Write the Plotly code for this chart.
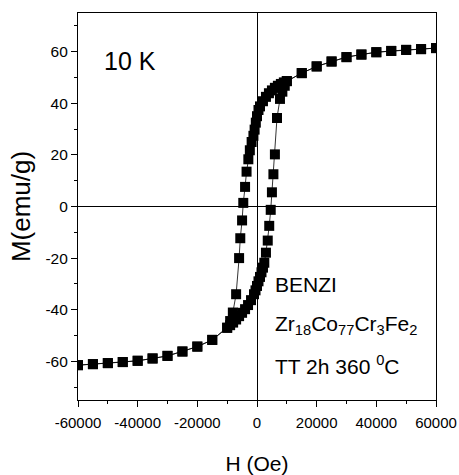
import plotly.graph_objects as go

# Descending branch (field swept from +60000 Oe to -60000 Oe)
H_down = [60000, 55000, 50000, 45000, 40000, 35000, 30000, 25000, 20000, 15000,
          10000, 9000, 8000, 7000, 6000, 5000, 4000, 3000, 2000, 1000, 500, 0,
          -400, -800, -1200, -1800, -2400, -2900, -3500, -4000, -4600, -5000,
          -5600, -6000, -7000, -8100, -9000, -10000,
          -15000, -20000, -25000, -30000, -35000, -40000, -45000, -50000, -55000, -60000]
M_down = [61.4, 61.0, 60.7, 60.3, 59.8, 58.9, 57.9, 56.2, 54.3, 51.7,
          48.6, 48.1, 47.5, 46.8, 46.0, 45.0, 43.9, 42.5, 40.8, 38.8, 37.4, 35.0,
          32.5, 29.8, 27.4, 25.0, 21.8, 18.3, 13.5, 7.6, 1.4, -5.4,
          -12.3, -20.0, -34.0, -41.1, -44.4, -47.0,
          -51.7, -54.3, -56.2, -57.9, -58.9, -59.8, -60.3, -60.7, -61.1, -61.5]

# Ascending branch (field swept from -60000 Oe to +60000 Oe)
H_up = [-60000, -55000, -50000, -45000, -40000, -35000, -30000, -25000, -20000, -15000,
        -10000, -9000, -8000, -7000, -6000, -5000, -4000, -3000, -2000, -1000, -500, 0,
        500, 1000, 1500, 2000, 2450, 3000, 3600, 4100, 4600, 5000, 5500, 6000,
        6700, 7700, 8500, 9300, 10000,
        15000, 20000, 25000, 30000, 35000, 40000, 45000, 50000, 55000, 60000]
M_up = [-61.5, -61.1, -60.7, -60.3, -59.8, -58.9, -57.9, -56.2, -54.3, -51.7,
        -47.0, -46.0, -45.0, -43.8, -42.5, -41.2, -39.8, -38.2, -36.3, -34.0, -32.5, -30.8,
        -29.0, -27.3, -25.5, -23.7, -21.8, -17.9, -13.2, -7.5, -1.3, 5.5, 12.5, 20.2,
        34.3, 41.7, 44.5, 46.8, 48.6,
        51.7, 54.3, 56.2, 57.9, 58.9, 59.8, 60.3, 60.7, 61.0, 61.4]

x_ticks = [-60000, -40000, -20000, 0, 20000, 40000, 60000]
y_ticks = [-60, -40, -20, 0, 20, 40, 60]

FONT = "Liberation Sans, Arial, sans-serif"

fig = go.Figure()
for hx, my in ((H_down, M_down), (H_up, M_up)):
    fig.add_trace(go.Scatter(
        x=hx, y=my, mode="lines+markers",
        line=dict(color="black", width=0.8),
        marker=dict(symbol="square", size=10, color="black", line=dict(width=0)),
        showlegend=False, hoverinfo="skip"))

axis_common = dict(
    showline=True, linecolor="black", linewidth=1.2, mirror=True,
    ticks="outside", ticklen=6, tickwidth=1, tickcolor="black",
    showgrid=False, zeroline=True, zerolinecolor="black", zerolinewidth=1,
    tickangle=0, automargin=False,
)

fig.update_layout(
    width=459, height=475,
    margin=dict(l=78, r=23, t=13, b=75),
    paper_bgcolor="white", plot_bgcolor="white",
    xaxis=dict(range=[-60000, 60000], tickvals=x_ticks,
               ticktext=[str(v) for v in x_ticks],
               tickfont=dict(family=FONT, size=15, color="black"),
               minor=dict(dtick=10000, ticks="outside", ticklen=3, tickcolor="black"),
               ticklabelstandoff=3,
               title=dict(text="H (Oe)", font=dict(family=FONT, size=21, color="black"),
                          standoff=26),
               **axis_common),
    yaxis=dict(range=[-75, 75], tickvals=y_ticks,
               ticktext=[str(v) for v in y_ticks],
               tickfont=dict(family=FONT, size=15.5, color="black"),
               minor=dict(dtick=10, ticks="outside", ticklen=3, tickcolor="black"),
               title=dict(text="M(emu/g)", font=dict(family=FONT, size=26, color="black"),
                          standoff=7),
               **axis_common),
)

fig.add_annotation(x=-51800, y=56.5, xref="x", yref="y", text="10 K", showarrow=False,
                   xanchor="left", yanchor="middle",
                   font=dict(family=FONT, size=25, color="black"))
fig.add_annotation(x=5500, y=-30.2, xref="x", yref="y", text="BENZI", showarrow=False,
                   xanchor="left", yanchor="middle",
                   font=dict(family=FONT, size=21, color="black"))
fig.add_annotation(x=5500, y=-46.0, xref="x", yref="y",
                   text="Zr<sub>18</sub>Co<sub>77</sub>Cr<sub>3</sub>Fe<sub>2</sub>",
                   showarrow=False, xanchor="left", yanchor="middle",
                   font=dict(family=FONT, size=21, color="black"))
fig.add_annotation(x=5500, y=-61.5, xref="x", yref="y",
                   text="TT 2h 360 <sup>0</sup>C",
                   showarrow=False, xanchor="left", yanchor="middle",
                   font=dict(family=FONT, size=21, color="black"))

fig.write_html("out.html",
               config={"displayModeBar": False},
               post_script="document.body.style.margin='0';"
                           "document.documentElement.style.overflow='hidden';"
                           "document.body.style.overflow='hidden';")
